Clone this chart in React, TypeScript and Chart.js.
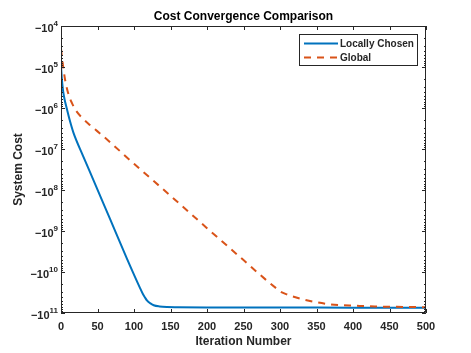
import React, { useEffect, useRef } from 'react';
import { Chart, registerables } from 'chart.js';

Chart.register(...registerables);

// Iteration numbers and log10(-cost) (y axis: -10^4 at top … -10^11 at bottom)
const iterLocal = [0, 1, 2, 3, 5, 8, 12, 17, 30, 44, 67, 90, 108, 112, 115, 118, 122, 127, 135, 145, 160, 200, 300, 400, 500];
const logCostLocal = [4.97, 5.25, 5.45, 5.6, 5.8, 6.02, 6.3, 6.6, 7.16, 7.74, 8.7, 9.66, 10.38, 10.53, 10.62, 10.7, 10.76, 10.81, 10.84, 10.855, 10.86, 10.865, 10.865, 10.87, 10.87];

const iterGlobal = [0, 1, 3, 6, 10, 15, 20, 30, 40, 50, 60, 100, 150, 200, 250, 280, 295, 300, 310, 320, 330, 345, 365, 385, 400, 430, 460, 500];
const logCostGlobal = [4.55, 4.72, 5.0, 5.35, 5.65, 5.88, 6.05, 6.26, 6.42, 6.57, 6.72, 7.36, 8.14, 8.93, 9.71, 10.18, 10.4, 10.47, 10.55, 10.61, 10.66, 10.72, 10.78, 10.81, 10.82, 10.84, 10.85, 10.86];

const seriesNames = ['Locally Chosen', 'Global'];
const xTickValues = [0, 50, 100, 150, 200, 250, 300, 350, 400, 450, 500];
const yDecades = [4, 5, 6, 7, 8, 9, 10, 11];

const FONT = '"Liberation Sans", Arial, Helvetica, sans-serif';
const TEXT = '#262626';
const BLUE = '#0072BD';
const ORANGE = '#D95319';
const DASH = [7, 6];

const matlabAxes = {
  id: 'matlabAxes',
  afterDatasetsDraw(chart: any) {
    const { ctx, chartArea, scales } = chart;
    const { left, right, top, bottom } = chartArea;
    const x = scales.x;
    const y = scales.y;
    ctx.save();
    ctx.strokeStyle = TEXT;
    ctx.lineWidth = 1;
    // box
    ctx.beginPath();
    ctx.rect(left + 0.5, top + 0.5, right - left - 1, bottom - top - 1);
    ctx.stroke();
    // x ticks (top and bottom, inward)
    ctx.beginPath();
    for (const v of xTickValues) {
      const px = Math.round(x.getPixelForValue(v)) + 0.5;
      ctx.moveTo(px, bottom);
      ctx.lineTo(px, bottom - 4);
      ctx.moveTo(px, top);
      ctx.lineTo(px, top + 4);
    }
    // y ticks: majors and log minors
    for (const d of yDecades) {
      const py = Math.round(y.getPixelForValue(d)) + 0.5;
      ctx.moveTo(left, py);
      ctx.lineTo(left + 4, py);
      ctx.moveTo(right, py);
      ctx.lineTo(right - 4, py);
      if (d < 11) {
        for (let k = 2; k <= 9; k++) {
          const pm = Math.round(y.getPixelForValue(d + Math.log10(k))) + 0.5;
          ctx.moveTo(left, pm);
          ctx.lineTo(left + 2, pm);
          ctx.moveTo(right, pm);
          ctx.lineTo(right - 2, pm);
        }
      }
    }
    ctx.stroke();

    // y tick labels: −10^n
    ctx.fillStyle = TEXT;
    for (const d of yDecades) {
      const py = y.getPixelForValue(d);
      const sup = String(d);
      ctx.font = `bold 8px ${FONT}`;
      const ws = ctx.measureText(sup).width;
      const xr = left - 3;
      ctx.textAlign = 'right';
      ctx.textBaseline = 'middle';
      ctx.fillText(sup, xr, py - 2.5);
      ctx.font = `bold 11px ${FONT}`;
      ctx.fillText('\u221210', xr - ws, py + 3);
    }

    // legend
    const bw = 118;
    const bh = 31;
    const bx = right - 9 - bw;
    const by = top + 8;
    ctx.fillStyle = '#ffffff';
    ctx.fillRect(bx, by, bw, bh);
    ctx.strokeStyle = TEXT;
    ctx.lineWidth = 1;
    ctx.strokeRect(bx + 0.5, by + 0.5, bw, bh);
    const rows = [
      { name: seriesNames[0], color: BLUE, dash: [] as number[], yy: by + 9.5 },
      { name: seriesNames[1], color: ORANGE, dash: DASH, yy: by + 23.5 },
    ];
    for (const r of rows) {
      ctx.beginPath();
      ctx.strokeStyle = r.color;
      ctx.lineWidth = 2;
      ctx.setLineDash(r.dash);
      ctx.moveTo(bx + 5, r.yy);
      ctx.lineTo(bx + 39, r.yy);
      ctx.stroke();
      ctx.setLineDash([]);
      ctx.fillStyle = TEXT;
      ctx.font = `bold 10px ${FONT}`;
      ctx.textAlign = 'left';
      ctx.textBaseline = 'middle';
      ctx.fillText(r.name, bx + 41, r.yy + 0.5);
    }
    ctx.restore();
  },
};

export default function App() {
  const ref = useRef<HTMLCanvasElement | null>(null);

  useEffect(() => {
    if (!ref.current) return;
    const chart = new Chart(ref.current, {
      type: 'line',
      data: {
        datasets: [
          {
            label: seriesNames[0],
            data: iterLocal.map((it, i) => ({ x: it, y: logCostLocal[i] })),
            borderColor: BLUE,
            backgroundColor: BLUE,
            borderWidth: 2,
            pointRadius: 0,
            cubicInterpolationMode: 'monotone',
            fill: false,
            order: 1,
          },
          {
            label: seriesNames[1],
            data: iterGlobal.map((it, i) => ({ x: it, y: logCostGlobal[i] })),
            borderColor: ORANGE,
            backgroundColor: ORANGE,
            borderWidth: 2,
            borderDash: DASH,
            pointRadius: 0,
            cubicInterpolationMode: 'monotone',
            fill: false,
            order: 0,
          },
        ],
      },
      options: {
        animation: false,
        responsive: false,
        devicePixelRatio: 1,
        layout: { padding: { left: 0, right: 45, top: 0, bottom: 0 } },
        plugins: {
          legend: { display: false },
          tooltip: { enabled: false },
          title: {
            display: true,
            text: 'Cost Convergence Comparison',
            color: '#000',
            fullSize: false,
            font: { family: FONT, size: 12, weight: 'bold' },
            padding: { top: 9, bottom: 2.6 },
          },
        },
        scales: {
          x: {
            type: 'linear',
            min: 0,
            max: 500,
            grid: { display: false, drawTicks: false, tickLength: 0 },
            border: { display: false },
            ticks: {
              stepSize: 50,
              autoSkip: false,
              maxRotation: 0,
              padding: 7,
              color: TEXT,
              font: { family: FONT, size: 11, weight: 'bold' },
            },
            title: {
              display: true,
              text: 'Iteration Number',
              color: TEXT,
              font: { family: FONT, size: 12, weight: 'bold' },
              padding: { top: 0, bottom: 3.8 },
            },
            afterFit: (s: any) => {
              s.height = 40;
            },
          },
          y: {
            type: 'linear',
            min: 4,
            max: 11,
            reverse: true,
            grid: { display: false },
            border: { display: false },
            ticks: { display: false },
            title: {
              display: true,
              text: 'System Cost',
              color: TEXT,
              font: { family: FONT, size: 12, weight: 'bold' },
              padding: { top: 11.8, bottom: 0 },
            },
            afterFit: (s: any) => {
              s.width = 61;
            },
          },
        },
      },
      plugins: [matlabAxes],
    } as any);
    return () => chart.destroy();
  }, []);

  return (
    <div style={{ position: 'fixed', left: 0, top: 0, width: 471, height: 353, background: '#fff' }}>
      <canvas ref={ref} width={471} height={353} style={{ display: 'block', width: 471, height: 353 }} />
    </div>
  );
}
